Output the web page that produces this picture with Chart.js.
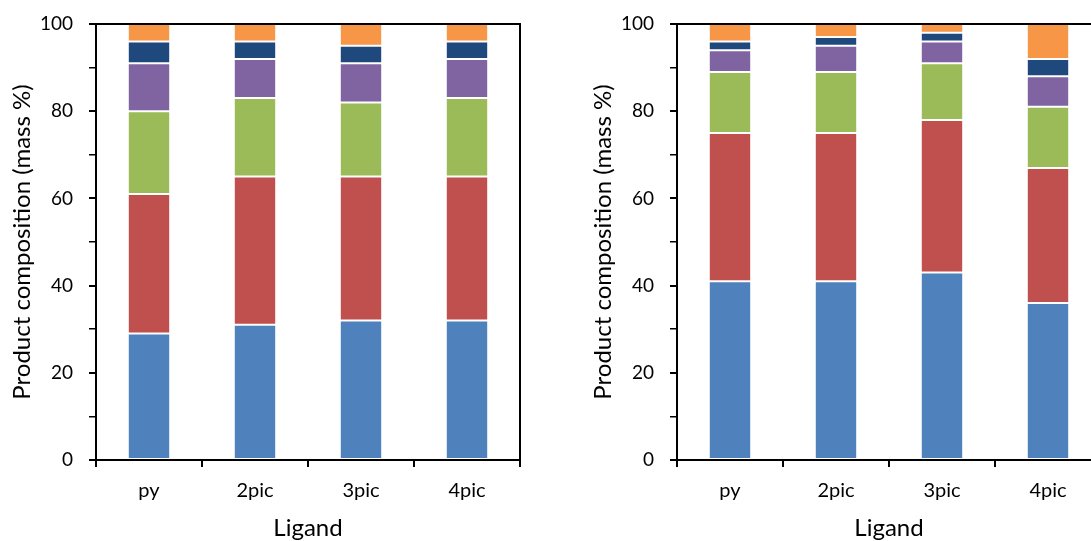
<!DOCTYPE html>
<html>
<head>
<meta charset="utf-8">
<script src="https://cdn.jsdelivr.net/npm/chart.js@4.4.0/dist/chart.umd.min.js"></script>
<style>
  html, body { margin: 0; padding: 0; background: #fff; overflow: hidden; width: 1091px; height: 541px; }
  .box { position: absolute; top: 0; width: 540px; height: 541px; }
  #leftBox { left: 0; }
  #rightBox { left: 581px; }
</style>
</head>
<body>
<div class="box" id="leftBox"><canvas id="leftChart" width="540" height="541"></canvas></div>
<div class="box" id="rightBox"><canvas id="rightChart" width="540" height="541"></canvas></div>
<script>
const ligands = ['py', '2pic', '3pic', '4pic'];
const yTicks = [0, 20, 40, 60, 80, 100];

// left panel (mass %)
const leftBlue = [29, 31, 32, 32];
const leftRed = [32, 34, 33, 33];
const leftGreen = [19, 18, 17, 18];
const leftPurple = [11, 9, 9, 9];
const leftNavy = [5, 4, 4, 4];
const leftOrange = [4, 4, 5, 4];

// right panel (mass %)
const rightBlue = [41, 41, 43, 36];
const rightRed = [34, 34, 35, 31];
const rightGreen = [14, 14, 13, 14];
const rightPurple = [5, 6, 5, 7];
const rightNavy = [2, 2, 2, 4];
const rightOrange = [4, 3, 2, 8];

const colors = ['#4F81BD', '#C0504D', '#9BBB59', '#8064A2', '#1F497D', '#F79646'];
const fontFamily = 'Lato, "Open Sans", sans-serif';

// draws the closing frame (top and right) around the plot area
const frame = {
    id: 'frame',
    afterDraw(chart) {
        const a = chart.chartArea;
        const ctx = chart.ctx;
        ctx.save();
        ctx.strokeStyle = '#000';
        ctx.lineWidth = 2;
        ctx.beginPath();
        ctx.moveTo(a.left, a.top);
        ctx.lineTo(a.right, a.top);
        ctx.lineTo(a.right, a.bottom);
        ctx.stroke();
        ctx.restore();
    }
};

function makeDatasets(series) {
    return series.map((values, i) => ({
        data: values,
        backgroundColor: colors[i],
        borderColor: '#fff',
        borderWidth: 1,
        borderSkipped: false,
        barPercentage: 0.4,
        categoryPercentage: 1
    }));
}

function makeConfig(series) {
    return {
        type: 'bar',
        data: {
            labels: ligands,
            datasets: makeDatasets(series)
        },
        options: {
            responsive: false,
            animation: false,
            layout: { padding: { top: 24, right: 20, left: 0, bottom: 0 } },
            plugins: {
                legend: { display: false },
                tooltip: { enabled: false }
            },
            scales: {
                x: {
                    stacked: true,
                    afterFit: s => { s.height = 81; },
                    border: { color: '#000', width: 2 },
                    grid: {
                        offset: true,
                        drawOnChartArea: false,
                        color: '#000',
                        tickLength: 7,
                        lineWidth: 2
                    },
                    ticks: {
                        color: '#000',
                        padding: 12,
                        font: { family: fontFamily, size: 20 }
                    },
                    title: {
                        display: true,
                        text: 'Ligand',
                        color: '#000',
                        padding: { top: 0, bottom: -2 },
                        font: { family: fontFamily, size: 24 }
                    }
                },
                y: {
                    stacked: true,
                    min: 0,
                    max: 100,
                    afterFit: s => { s.width = 96; s.paddingTop = 0; },
                    afterBuildTicks: s => {
                        s.ticks = [];
                        for (let v = 0; v <= 100; v += 10) s.ticks.push({ value: v });
                    },
                    border: { color: '#000', width: 2 },
                    grid: {
                        drawOnChartArea: false,
                        color: '#000',
                        tickLength: 7,
                        lineWidth: ctx => (ctx.tick && ctx.tick.value % 20 === 0) ? 2 : 1.5
                    },
                    ticks: {
                        color: '#000',
                        padding: 16,
                        autoSkip: false,
                        font: { family: fontFamily, size: 19 },
                        callback: v => yTicks.includes(v) ? String(v) : ''
                    },
                    title: {
                        display: true,
                        text: 'Product composition (mass %)',
                        color: '#000',
                        padding: { top: 8, bottom: 0 },
                        font: { family: fontFamily, size: 24 }
                    }
                }
            }
        },
        plugins: [frame]
    };
}

new Chart(document.getElementById('leftChart'),
    makeConfig([leftBlue, leftRed, leftGreen, leftPurple, leftNavy, leftOrange]));
new Chart(document.getElementById('rightChart'),
    makeConfig([rightBlue, rightRed, rightGreen, rightPurple, rightNavy, rightOrange]));
</script>
</body>
</html>
